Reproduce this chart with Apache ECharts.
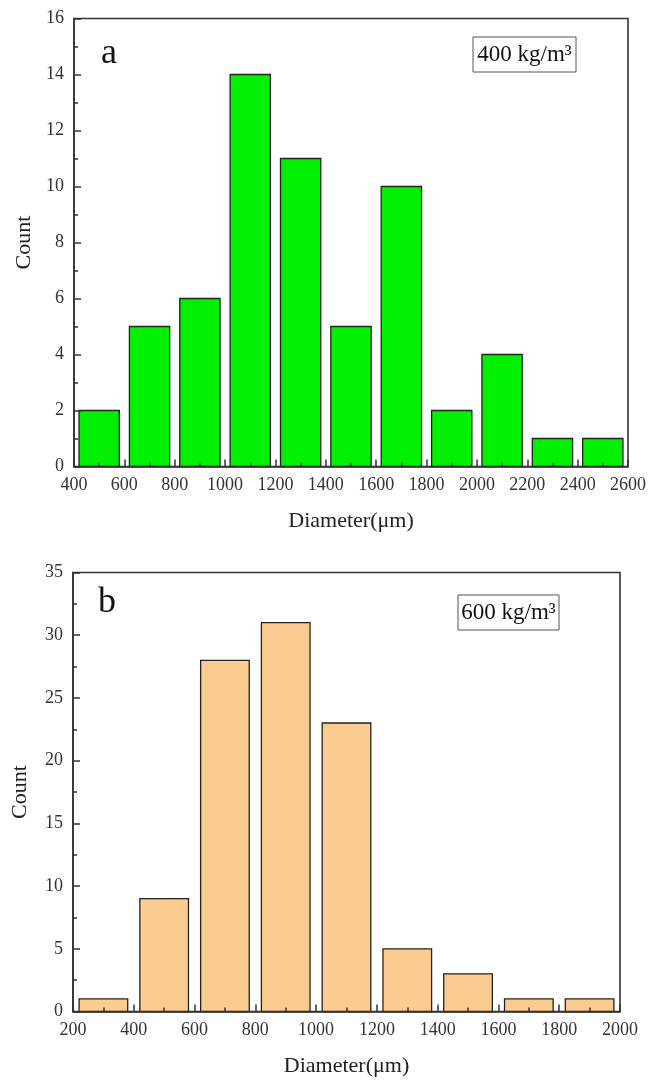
<!DOCTYPE html>
<html>
<head>
<meta charset="utf-8">
<script src="https://cdn.jsdelivr.net/npm/echarts@6/dist/echarts.min.js"></script>
<style>
  html, body { margin: 0; padding: 0; background: #fff; }
  #chart { width: 649px; height: 1088px; }
</style>
</head>
<body>
<div id="chart"></div>
<script>
// panel a: 400 kg/m3, bins of 200 µm
const binsA = [500, 700, 900, 1100, 1300, 1500, 1700, 1900, 2100, 2300, 2500];
const countsA = [2, 5, 6, 14, 11, 5, 10, 2, 4, 1, 1];
// panel b: 600 kg/m3
const binsB = [300, 500, 700, 900, 1100, 1300, 1500, 1700, 1900];
const countsB = [1, 9, 28, 31, 23, 5, 3, 1, 1];
const binWidth = 200;

const FONT = "'Liberation Serif', 'Times New Roman', serif";
const AXIS = "#333";

const chart = echarts.init(document.getElementById("chart"), null, { renderer: "canvas" });

// bar of a histogram bin, 80% of the bin width
function histItem(color) {
  return function (params, api) {
    const x = api.value(0), y = api.value(1);
    const p0 = api.coord([x - binWidth * 0.4, y]);
    const p1 = api.coord([x + binWidth * 0.4, 0]);
    return {
      type: "rect",
      shape: { x: p0[0], y: p0[1], width: p1[0] - p0[0], height: p1[1] - p0[1] },
      style: { fill: color, stroke: "#222", lineWidth: 1.3 }
    };
  };
}

function xAxis(idx, min, max) {
  return {
    gridIndex: idx, type: "value", min: min, max: max, interval: 200,
    name: "Diameter(μm)", nameLocation: "middle", nameGap: 44,
    nameTextStyle: { fontFamily: FONT, fontSize: 22, color: "#222" },
    axisLine: { lineStyle: { color: AXIS, width: 1.6 } },
    axisTick: { inside: true, length: 7, lineStyle: { color: AXIS, width: 1.5 } },
    minorTick: { show: true, splitNumber: 2, length: 4, lineStyle: { color: AXIS, width: 1.5 } },
    axisLabel: { fontFamily: FONT, fontSize: 18, color: "#333", margin: 10, formatter: v => String(v) },
    splitLine: { show: false },
    z: 10
  };
}

function yAxis(idx, max, step, gap) {
  return {
    gridIndex: idx, type: "value", min: 0, max: max, interval: step,
    name: "Count", nameLocation: "middle", nameGap: gap,
    nameTextStyle: { fontFamily: FONT, fontSize: 22, color: "#222" },
    axisLine: { show: true, lineStyle: { color: AXIS, width: 1.6 } },
    axisTick: { show: true, inside: true, length: 7, lineStyle: { color: AXIS, width: 1.5 } },
    minorTick: { show: true, splitNumber: 2, length: 4, lineStyle: { color: AXIS, width: 1.5 } },
    axisLabel: { fontFamily: FONT, fontSize: 18, color: "#333", margin: 10, formatter: v => String(v) },
    splitLine: { show: false },
    z: 10
  };
}

const option = {
  backgroundColor: "#fff",
  animation: false,
  grid: [
    { left: 74, top: 18.5, width: 555.5, height: 448, show: true, borderColor: AXIS, borderWidth: 1.6 },
    { left: 73, top: 572.5, width: 547, height: 439, show: true, borderColor: AXIS, borderWidth: 1.6 }
  ],
  xAxis: [xAxis(0, 400, 2600), xAxis(1, 200, 2000)],
  yAxis: [yAxis(0, 16, 2, 30), yAxis(1, 35, 5, 42)],
  series: [
    {
      type: "custom", xAxisIndex: 0, yAxisIndex: 0,
      renderItem: histItem("#00f000"),
      data: binsA.map((b, i) => [b, countsA[i]])
    },
    {
      type: "custom", xAxisIndex: 1, yAxisIndex: 1,
      renderItem: histItem("#fccb8f"),
      data: binsB.map((b, i) => [b, countsB[i]])
    }
  ],
  graphic: [
    { type: "text", left: 101, top: 36, style: { text: "a", font: "36px " + FONT, fill: "#111" } },
    { type: "text", left: 98, top: 585, style: { text: "b", font: "36px " + FONT, fill: "#111" } },
    { type: "rect", shape: { x: 473, y: 37, width: 103, height: 35 }, style: { fill: "#fff", stroke: "#555", lineWidth: 1 } },
    { type: "text", x: 524.5, y: 55, style: { text: "400 kg/m³", font: "23px " + FONT, fill: "#111", align: "center", verticalAlign: "middle" } },
    { type: "rect", shape: { x: 458, y: 595, width: 101, height: 35 }, style: { fill: "#fff", stroke: "#555", lineWidth: 1 } },
    { type: "text", x: 508.5, y: 613, style: { text: "600 kg/m³", font: "23px " + FONT, fill: "#111", align: "center", verticalAlign: "middle" } }
  ]
};

chart.setOption(option);
</script>
</body>
</html>
